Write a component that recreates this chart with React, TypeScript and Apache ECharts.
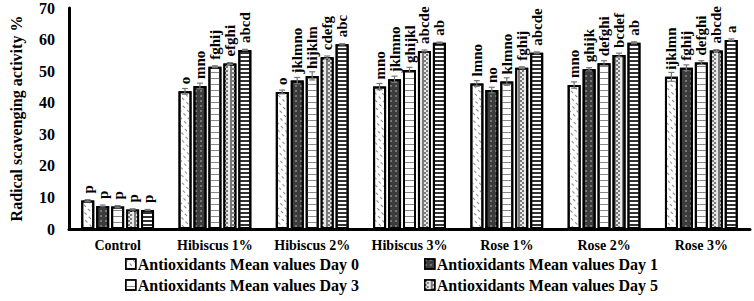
import React, { useEffect, useRef } from "react";
import * as echarts from "echarts";

const categories = ["Control", "Hibiscus 1%", "Hibiscus 2%", "Hibiscus 3%", "Rose 1%", "Rose 2%", "Rose 3%"];
const seriesNames = [
  "Antioxidants Mean values Day 0",
  "Antioxidants Mean values Day 1",
  "Antioxidants Mean values Day 3",
  "Antioxidants Mean values Day 5",
  "Antioxidants Mean values Day 7",
];
const day0 = [9.0, 43.6, 43.4, 45.1, 46.1, 45.6, 48.2];
const day1 = [7.3, 45.3, 47.0, 47.4, 44.0, 50.6, 51.1];
const day3 = [7.1, 51.4, 48.5, 50.4, 46.7, 52.5, 52.7];
const day5 = [6.2, 52.4, 54.4, 56.4, 51.1, 55.1, 56.5];
const day7 = [6.0, 56.7, 58.5, 59.0, 55.8, 59.0, 59.9];
const err0 = [0.3, 0.9, 0.6, 1.0, 0.9, 1.0, 1.4];
const err1 = [0.3, 0.9, 1.0, 1.0, 0.9, 0.5, 0.9];
const err3 = [0.3, 0.3, 1.3, 0.8, 1.2, 0.8, 0.6];
const err5 = [0.2, 0.3, 0.4, 0.3, 0.3, 0.6, 0.3];
const err7 = [0.2, 0.2, 0.2, 0.2, 0.3, 0.3, 0.3];
const letters0 = ["p", "o", "o", "mno", "lmno", "mno", "ijklmn"];
const letters1 = ["p", "mno", "jklmno", "jklmno", "no", "ghijk", "fghij"];
const letters3 = ["p", "fghij", "hijklm", "ghijkl", "klmno", "defghi", "defghi"];
const letters5 = ["p", "efghi", "cdefg", "abcde", "fghij", "bcdef", "abcde"];
const letters7 = ["p", "abcd", "abc", "ab", "abcde", "ab", "a"];

const values = [day0, day1, day3, day5, day7];
const errors = [err0, err1, err3, err5, err7];
const letters = [letters0, letters1, letters3, letters5, letters7];

const FONT = "'Liberation Serif', 'Times New Roman', serif";
const BAR_W = 13;
const BAR_STEP = 15;

const fills = ["#ffffff", "#3c3c3c", "#ffffff", "#7a7a7a", "#ffffff"];
const decals: any[] = [
  { symbol: "rect", symbolSize: 1, color: "#8a8a8a", dashArrayX: [3, 3], dashArrayY: [1, 4], rotation: Math.PI / 4 },
  { symbol: "circle", symbolSize: 0.7, color: "rgba(255,255,255,0.75)", dashArrayX: [2, 3], dashArrayY: [2, 3] },
  { symbol: "rect", symbolSize: 1, color: "#888888", dashArrayX: [1, 0], dashArrayY: [1, 5] },
  { symbol: "rect", symbolSize: 1, color: "#e8e8e8", dashArrayX: [[2, 2], [0, 2, 2]], dashArrayY: [2, 0] },
  { symbol: "rect", symbolSize: 1, color: "#333333", dashArrayX: [1, 0], dashArrayY: [1.5, 2] },
];

export default function App() {
  const ref = useRef<HTMLDivElement>(null);
  useEffect(() => {
    if (!ref.current) return;
    const chart = echarts.init(ref.current, null, { renderer: "svg" });
    const barSeries = seriesNames.map((name, i) => ({
      name,
      type: "bar",
      data: values[i],
      barWidth: BAR_W,
      barGap: "15%",
      itemStyle: { color: fills[i], borderColor: "#000", borderWidth: 2, decal: decals[i] },
      label: {
        show: true,
        position: "top",
        rotate: 90,
        align: "left",
        verticalAlign: "middle",
        distance: 7,
        fontFamily: FONT,
        fontWeight: "bold",
        fontSize: 15,
        color: "#000",
        formatter: (p: any) => letters[i][p.dataIndex],
      },
      z: 2,
    }));
    const errData: any[] = [];
    values.forEach((arr, i) => arr.forEach((v, j) => errData.push([j, v, errors[i][j], i])));
    const errSeries = {
      type: "custom",
      name: "err",
      data: errData,
      encode: { x: 0, y: 1 },
      z: 5,
      silent: true,
      renderItem: (params: any, api: any) => {
        const j = api.value(0);
        const v = api.value(1);
        const e = api.value(2);
        const i = api.value(3);
        const off = -2 * BAR_STEP + i * BAR_STEP;
        const top = api.coord([j, v + e]);
        const bot = api.coord([j, v - e]);
        const x = top[0] + off;
        const style = { stroke: "#777", lineWidth: 1.2 };
        return {
          type: "group",
          children: [
            { type: "line", shape: { x1: x, y1: top[1], x2: x, y2: bot[1] }, style },
            { type: "line", shape: { x1: x - 3, y1: top[1], x2: x + 3, y2: top[1] }, style },
            { type: "line", shape: { x1: x - 3, y1: bot[1], x2: x + 3, y2: bot[1] }, style },
          ],
        };
      },
    };
    const legendCommon = {
      orient: "vertical",
      icon: "rect",
      itemWidth: 10,
      itemHeight: 10,
      itemGap: 5,
      itemStyle: { borderColor: "#000", borderWidth: 1.5 },
      textStyle: { fontFamily: FONT, fontWeight: "bold", fontSize: 16, color: "#000", padding: [0, 0, 0, -3] },
      padding: 0,
    };
    chart.setOption({
      animation: false,
      backgroundColor: "#fff",
      grid: { left: 57, right: 4, top: 8, bottom: 72 },
      legend: [
        { ...legendCommon, left: 125, top: 256, data: [seriesNames[0], seriesNames[2]] },
        { ...legendCommon, left: 424, top: 256, data: [seriesNames[1], seriesNames[3]] },
      ],
      xAxis: {
        type: "category",
        data: categories,
        axisLine: { lineStyle: { color: "#000", width: 3 } },
        axisTick: { show: false },
        axisLabel: { interval: 0, fontFamily: FONT, fontWeight: "bold", fontSize: 14, color: "#000", margin: 9 },
      },
      yAxis: {
        type: "value",
        min: 0,
        max: 70,
        interval: 10,
        name: "Radical scavenging activity %",
        nameLocation: "middle",
        nameGap: 45,
        nameTextStyle: { fontFamily: FONT, fontWeight: "bold", fontSize: 16, color: "#000" },
        axisLine: { show: true, lineStyle: { color: "#000", width: 3 } },
        axisTick: { show: false },
        splitLine: { show: false },
        axisLabel: { fontFamily: FONT, fontWeight: "bold", fontSize: 16, color: "#000", margin: 14 },
      },
      series: [...barSeries, errSeries],
    });
    return () => chart.dispose();
  }, []);
  return <div ref={ref} style={{ width: 754, height: 301, position: "absolute", left: 0, top: 0 }} />;
}
